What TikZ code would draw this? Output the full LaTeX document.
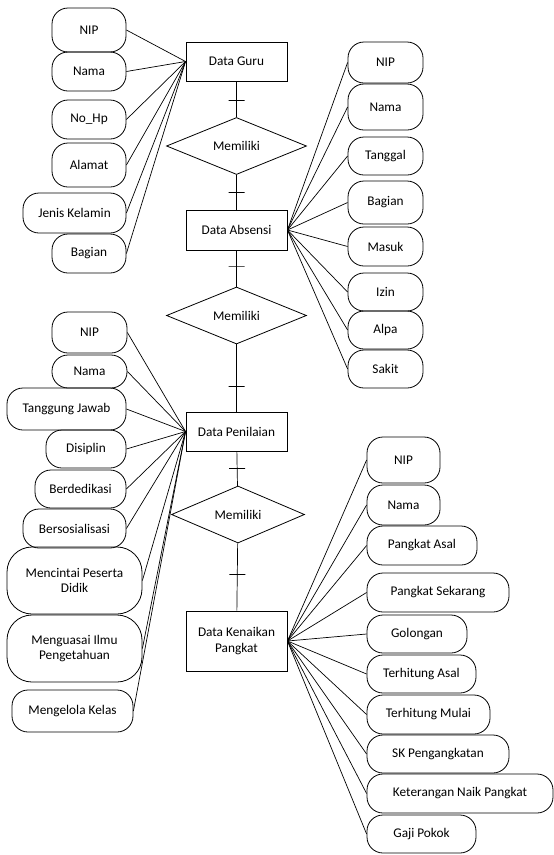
\documentclass[tikz,border=0pt]{standalone}
\usepackage{fontspec}
\setmainfont{Carlito}
\usetikzlibrary{shapes.geometric, positioning}

\begin{document}
\begin{tikzpicture}[x=1pt, y=-1pt,
   every node/.style={font=\fontsize{13.3}{15.5}\selectfont},
   entity/.style={draw, line width=0.9pt, minimum width=101pt, inner sep=2pt, align=center},
   relation/.style={draw, diamond, line width=0.8pt, minimum width=140pt, minimum height=57pt, inner sep=0pt},
   attrib/.style={draw, rounded corners=16pt, line width=0.8pt, inner sep=0pt, align=center},
   link/.style={line width=0.7pt},
   onebar/.style={draw, minimum width=16pt, minimum height=0pt, inner sep=0pt, outer sep=0pt, line width=0.7pt}]
            \useasboundingbox (0,0) rectangle (554,855);
            % Entities
            \node[entity, minimum height=39pt] (guru) at (236.5,61.5) {Data Guru};
            \node[entity, minimum height=40pt] (absensi) at (236.5,230) {Data Absensi};
            \node[entity, minimum height=39pt] (penilaian) at (236.5,431.5) {Data Penilaian};
            \node[entity, minimum height=60pt] (kenaikan) at (236.5,641) {Data Kenaikan\\Pangkat};
            % Relations
            \node[relation] (mem1) at (236.5,146) {Memiliki};
            \node[relation] (mem2) at (236.5,315.5) {Memiliki};
            \node[relation, minimum width=133pt] (mem3) at (238,514.5) {Memiliki};
            % Main chain with one-bars
            \draw[link] (guru) -- node[onebar, pos=0.53] {} (mem1);
            \draw[link] (mem1) -- node[onebar, pos=0.5] {} (absensi);
            \draw[link] (absensi) -- node[onebar, pos=0.43] {} (mem2);
            \draw[link] (mem2) -- node[onebar, pos=0.63] {} (penilaian);
            \draw[link] (penilaian) -- node[onebar, pos=0.49] {} (mem3);
            \draw[link] (mem3) -- node[onebar, pos=0.46] {} (kenaikan);
            % Attributes of Data Guru
            \foreach \nm/\cx/\cy/\w/\h/\txt in {
               g1/89/30/74/44/NIP, g2/89/71.5/74/39/Nama, g3/89/119.5/74/39/No\_Hp,
               g4/89/165/74/44/Alamat, g5/74.5/213/103/40/Jenis Kelamin, g6/89/253.5/74/39/Bagian}{
               \node[attrib, minimum width=\w pt, minimum height=\h pt] (\nm) at (\cx,\cy) {\txt};
               \draw[link] (\nm.east) -- (guru.west);
            }
            % Attributes of Data Absensi
            \foreach \nm/\cy/\h/\txt in {
               a1/62.5/41/NIP, a2/107/46/Nama, a3/156/38/Tanggal, a4/202.5/43/Bagian,
               a5/246.5/39/Masuk, a6/292/38/Izin, a7/330/38/Alpa, a8/369/38/Sakit}{
               \node[attrib, minimum width=75pt, minimum height=\h pt] (\nm) at (385.5,\cy) {\txt};
               \draw[link] (\nm.west) -- (absensi.east);
            }
            % Attributes of Data Penilaian
            \foreach \nm/\cx/\cy/\w/\h/\r/\txt in {
               p1/89.5/332.5/75/41/16/NIP, p2/89.5/371.5/75/33/16/Nama, p3/66.5/409/119/42/16/Tanggung Jawab,
               p4/86/449/80/38/16/Disiplin, p5/80.5/489/91/38/16/Berdedikasi, p6/74.5/528.5/103/39/16/Bersosialisasi,
               p7/74.5/580.5/135/67/25/{Mencintai Peserta\\Didik}, p8/74.5/648.5/135/67/25/{Menguasai Ilmu\\Pengetahuan},
               p9/72.5/711/121/42/16/Mengelola Kelas}{
               \node[attrib, rounded corners=\r pt, minimum width=\w pt, minimum height=\h pt] (\nm) at (\cx,\cy) {\txt};
               \draw[link] (\nm.east) -- (penilaian.west);
            }
            % Attributes of Data Kenaikan Pangkat
            \foreach \nm/\cx/\cy/\w/\h/\txt in {
               k1/403.5/460/73/46/NIP, k2/403.5/505/73/40/Nama, k3/422/545.5/110/39/Pangkat Asal,
               k4/438/592.5/142/39/Pangkat Sekarang, k5/417/634/100/38/Golongan,
               k6/421.5/674/109/38/Terhitung Asal, k7/428.5/714.5/123/39/Terhitung Mulai,
               k8/438/754/142/38/SK Pengangkatan, k9/460/793.5/186/39/Keterangan Naik Pangkat,
               k10/421.5/834/109/38/Gaji Pokok}{
               \node[attrib, minimum width=\w pt, minimum height=\h pt] (\nm) at (\cx,\cy) {\txt};
               \draw[link] (\nm.west) -- (kenaikan.east);
            }
         \end{tikzpicture}
\end{document}
